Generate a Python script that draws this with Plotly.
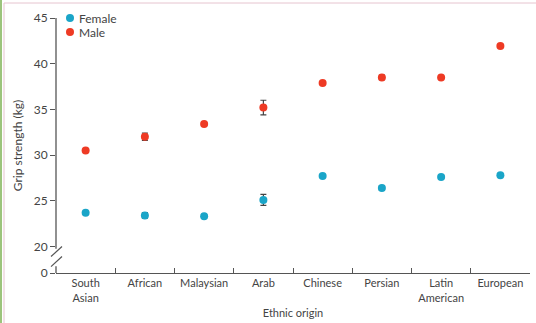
import plotly.graph_objects as go

categories = ["South<br>Asian", "African", "Malaysian", "Arab", "Chinese", "Persian", "Latin<br>American", "European"]
female = [23.7, 23.4, 23.3, 25.1, 27.7, 26.4, 27.6, 27.8]
female_err = [0.15, 0.3, 0.2, 0.6, 0.1, 0.25, 0.1, 0.1]
male = [30.5, 32.0, 33.4, 35.2, 37.9, 38.5, 38.5, 41.95]
male_err = [0.15, 0.4, 0.15, 0.8, 0.1, 0.25, 0.1, 0.1]
ytick_vals = [17.1, 20, 25, 30, 35, 40, 45]
ytick_text = ["0", "20", "25", "30", "35", "40", "45"]
series_names = ["Female", "Male"]

FEMALE_C = "#1aa5c8"
MALE_C = "#ee3a24"
AX_C = "#555555"
TXT_C = "#444444"
FONT = "Lato"

fig = go.Figure()
fig.add_trace(go.Scatter(
    x=categories, y=female, mode="markers", name=series_names[0],
    marker=dict(color=FEMALE_C, size=8),
    error_y=dict(type="data", array=female_err, color="#444444", thickness=1.2, width=3),
))
fig.add_trace(go.Scatter(
    x=categories, y=male, mode="markers", name=series_names[1],
    marker=dict(color=MALE_C, size=8),
    error_y=dict(type="data", array=male_err, color="#444444", thickness=1.2, width=3),
))

shapes = []
# y-axis line with break
shapes.append(dict(type="line", xref="paper", yref="y", x0=0, x1=0, y0=19.75, y1=45,
                   line=dict(color=AX_C, width=1.3)))
shapes.append(dict(type="line", xref="paper", yref="y", x0=0, x1=0, y0=17.1, y1=17.85,
                   line=dict(color=AX_C, width=1.3)))
# break slashes
for (ya, yb) in [(18.9, 20.0), (17.8, 18.9)]:
    shapes.append(dict(type="line", xref="paper", xsizemode="pixel", xanchor=0,
                       x0=-5, x1=6, yref="y", y0=ya, y1=yb,
                       line=dict(color=AX_C, width=1.2)))
# decorative page border
shapes.append(dict(type="rect", xref="paper", xsizemode="pixel", xanchor=0, x0=-56, x1=-54,
                   yref="paper", y0=-1, y1=2, fillcolor="#9cc47c", line=dict(width=0)))
shapes.append(dict(type="line", xref="paper", xsizemode="pixel", xanchor=0, x0=-52, x1=-52,
                   yref="paper", ysizemode="pixel", yanchor=1, y0=15, y1=-400,
                   line=dict(color="#e6c4cf", width=1)))
shapes.append(dict(type="line", xref="paper", xsizemode="pixel", xanchor=0, x0=-52, x1=600,
                   yref="paper", ysizemode="pixel", yanchor=1, y0=15, y1=15,
                   line=dict(color="#e6c4cf", width=1)))

# manual legend
annotations = []
for i, (nm, col) in enumerate(zip(series_names, [FEMALE_C, MALE_C])):
    cy = -14 * i
    shapes.append(dict(type="circle", xref="paper", xsizemode="pixel", xanchor=0,
                       x0=10, x1=18, yref="paper", ysizemode="pixel", yanchor=1,
                       y0=cy - 4, y1=cy + 4, fillcolor=col, line=dict(width=0)))
    annotations.append(dict(xref="paper", yref="paper", x=0, y=1, xshift=21, yshift=cy,
                            xanchor="left", yanchor="middle", text=nm, showarrow=False,
                            font=dict(family=FONT, size=12, color=TXT_C)))

fig.update_layout(
    width=536, height=323,
    margin=dict(l=56, r=6, t=18, b=48),
    paper_bgcolor="white", plot_bgcolor="white",
    font=dict(family=FONT, size=11, color=TXT_C),
    showlegend=False,
    shapes=shapes,
    annotations=annotations,
    xaxis=dict(
        type="category", range=[-0.5, 7.5], showgrid=False, zeroline=False,
        showline=True, linecolor=AX_C, linewidth=1.3,
        ticks="inside", tickson="boundaries", ticklen=5, tickcolor=AX_C, tickwidth=1.2,
        tickfont=dict(size=11, color=TXT_C),
        title=dict(text="Ethnic origin", font=dict(size=11, color=TXT_C), standoff=6),
    ),
    yaxis=dict(
        range=[17.1, 45], showgrid=False, zeroline=False, showline=False,
        tickmode="array", tickvals=ytick_vals, ticktext=ytick_text,
        ticks="outside", ticklen=5, tickcolor=AX_C, tickwidth=1.2,
        tickfont=dict(size=12, color=TXT_C),
        title=dict(text="Grip strength (kg)", font=dict(size=12, color=TXT_C), standoff=8),
    ),
)

fig.write_html("out.html")
